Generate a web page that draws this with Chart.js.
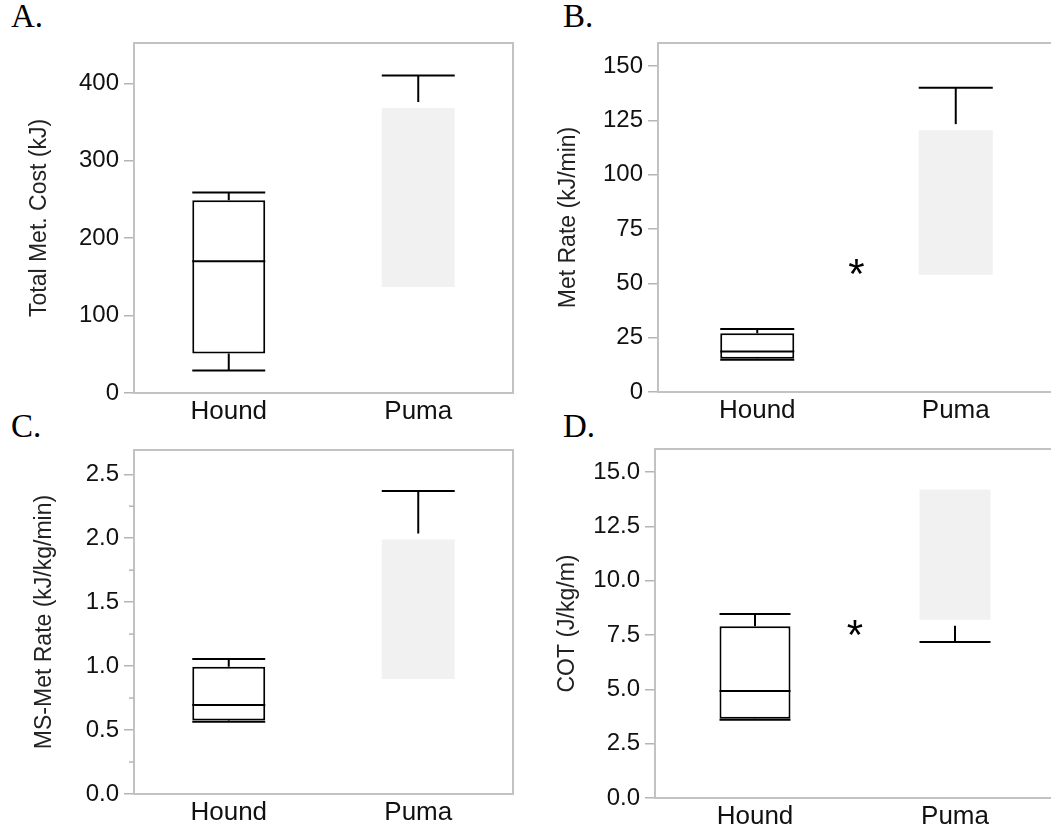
<!DOCTYPE html>
<html>
<head>
<meta charset="utf-8">
<script src="https://cdn.jsdelivr.net/npm/chart.js@4.4.1/dist/chart.umd.min.js"></script>
<style>
  html, body { margin: 0; padding: 0; background: #fff; overflow: hidden; width: 1051px; height: 830px; }
  .panel { position: absolute; }
  .tag { position: absolute; font-family: 'Liberation Serif', serif; font-size: 33px; line-height: 1; color: #000; }
</style>
</head>
<body>
<div class="tag" style="left:11px; top:0px">A.</div>
<div class="tag" style="left:563px; top:0px">B.</div>
<div class="tag" style="left:11px; top:410px">C.</div>
<div class="tag" style="left:563px; top:410px">D.</div>

<div class="panel" style="left:0px; top:0px"><canvas id="chartA" width="525" height="430"></canvas></div>
<div class="panel" style="left:530px; top:0px"><canvas id="chartB" width="530" height="430"></canvas></div>
<div class="panel" style="left:0px; top:420px"><canvas id="chartC" width="525" height="410"></canvas></div>
<div class="panel" style="left:530px; top:420px"><canvas id="chartD" width="530" height="410"></canvas></div>

<script>
const groups = ['Hound', 'Puma'];

// A. total metabolic cost
const costMin = [29, null];
const costQ1 = [51, 137];
const costMed = [170, null];
const costQ3 = [249, 368];
const costMax = [259, 410];
const costTicks = [0, 100, 200, 300, 400];

// B. metabolic rate
const rateMin = [14.8, null];
const rateQ1 = [15.3, 54];
const rateMed = [18.6, null];
const rateQ3 = [27, 120.5];
const rateMax = [29, 140];
const rateTicks = [0, 25, 50, 75, 100, 125, 150];
const rateStar = 57.5;

// C. mass-specific metabolic rate
const msMin = [0.565, null];
const msQ1 = [0.575, 0.9];
const msMed = [0.695, null];
const msQ3 = [0.995, 1.99];
const msMax = [1.055, 2.37];
const msTicks = [0, 0.5, 1.0, 1.5, 2.0, 2.5];
const msMinorTicks = [0.25, 0.75, 1.25, 1.75, 2.25];

// D. cost of transport
const cotMin = [3.6, 7.18];
const cotQ1 = [3.65, 8.2];
const cotMed = [4.92, null];
const cotQ3 = [7.9, 14.2];
const cotMax = [8.47, null];
const cotTicks = [0, 2.5, 5.0, 7.5, 10.0, 12.5, 15.0];
const cotStar = 7.8;

Chart.defaults.font.family = "'Liberation Sans', Arial, sans-serif";
Chart.defaults.color = '#111';

const line = (ctx, x1, y1, x2, y2) => {
  ctx.beginPath();
  ctx.moveTo(x1, y1);
  ctx.lineTo(x2, y2);
  ctx.stroke();
};

// frame, whiskers, medians, minor ticks and the significance star
const boxPlugin = {
  id: 'boxExtras',
  afterDatasetsDraw(chart) {
    const ctx = chart.ctx;
    const st = chart.data.datasets[0].stats;
    const meta = chart.getDatasetMeta(0);
    const y = chart.scales.y;
    const x = chart.scales.x;
    const area = chart.chartArea;
    ctx.save();

    ctx.strokeStyle = '#c2c2c2';
    ctx.lineWidth = 2;
    ctx.strokeRect(area.left, area.top, area.right - area.left, area.bottom - area.top);

    if (st.minor) {
      ctx.lineWidth = 1.5;
      ctx.strokeStyle = '#b5b5b5';
      st.minor.forEach(v => {
        const py = y.getPixelForValue(v);
        line(ctx, area.left - 5, py, area.left, py);
      });
    }

    ctx.strokeStyle = '#000';
    ctx.lineWidth = 2;
    meta.data.forEach((bar, i) => {
      const cx = bar.x, hw = bar.width / 2;
      const gap = i === 1 ? 6 : 0;
      if (st.med[i] != null) {
        const py = y.getPixelForValue(st.med[i]);
        line(ctx, cx - hw, py, cx + hw, py);
      }
      if (st.max[i] != null) {
        const top = y.getPixelForValue(st.max[i]);
        const from = y.getPixelForValue(st.q3[i]) - gap;
        line(ctx, cx, from, cx, top);
        line(ctx, cx - hw, top, cx + hw, top);
      }
      if (st.min[i] != null) {
        const bot = y.getPixelForValue(st.min[i]);
        const from = y.getPixelForValue(st.q1[i]) + gap;
        line(ctx, cx, from, cx, bot);
        line(ctx, cx - hw, bot, cx + hw, bot);
      }
    });

    if (st.star != null) {
      ctx.fillStyle = '#000';
      ctx.font = "42px 'Liberation Sans', Arial, sans-serif";
      ctx.textAlign = 'center';
      ctx.textBaseline = 'alphabetic';
      const m = ctx.measureText('*');
      const px = x.getPixelForValue(0.5);
      const py = y.getPixelForValue(st.star);
      ctx.fillText('*', px, py + (m.actualBoundingBoxAscent - m.actualBoundingBoxDescent) / 2);
    }
    ctx.restore();
  }
};

function boxChart(id, o) {
  return new Chart(document.getElementById(id), {
    type: 'bar',
    data: {
      labels: groups,
      datasets: [{
        data: o.q1.map((v, i) => [v, o.q3[i]]),
        backgroundColor: ['#ffffff', '#f1f1f1'],
        borderColor: ['#000000', 'rgba(0,0,0,0)'],
        borderWidth: [2, 0],
        borderSkipped: false,
        barPercentage: o.barPct,
        categoryPercentage: 1,
        stats: o
      }]
    },
    options: {
      responsive: false,
      animation: false,
      devicePixelRatio: 1,
      layout: { padding: { left: 0, top: o.top, right: o.right, bottom: 0 } },
      plugins: { legend: { display: false }, tooltip: { enabled: false } },
      scales: {
        x: {
          offset: true,
          grid: { display: false, drawTicks: false },
          border: { display: false },
          ticks: { font: { size: 26 }, color: '#111', padding: 3 },
          afterFit: s => { s.height = o.xHeight; }
        },
        y: {
          min: 0,
          max: o.yMax,
          grid: { drawOnChartArea: false, drawTicks: true, tickLength: 10, color: '#b5b5b5', lineWidth: 1.5 },
          border: { display: false },
          ticks: { font: { size: 24 }, color: '#111', padding: 5, callback: v => o.fmt(v) },
          afterBuildTicks: s => { s.ticks = o.ticks.map(v => ({ value: v })); },
          title: { display: true, text: o.title, font: { size: 23 }, color: '#222', padding: { top: o.titlePad, bottom: 0 } },
          afterFit: s => { s.width = o.yWidth; }
        }
      }
    },
    plugins: [boxPlugin]
  });
}

const whole = v => String(Math.round(v));
const oneDec = v => v.toFixed(1);

boxChart('chartA', {
  min: costMin, q1: costQ1, med: costMed, q3: costQ3, max: costMax, ticks: costTicks,
  title: 'Total Met. Cost (kJ)', fmt: whole, yMax: 452,
  top: 43, right: 12, yWidth: 134, xHeight: 37, barPct: 0.385, titlePad: 26
});
boxChart('chartB', {
  min: rateMin, q1: rateQ1, med: rateMed, q3: rateQ3, max: rateMax, ticks: rateTicks,
  title: 'Met Rate (kJ/min)', fmt: whole, yMax: 160.6, star: rateStar,
  top: 43, right: 5, yWidth: 128, xHeight: 38, barPct: 0.373, titlePad: 25
});
boxChart('chartC', {
  min: msMin, q1: msQ1, med: msMed, q3: msQ3, max: msMax, ticks: msTicks, minor: msMinorTicks,
  title: 'MS-Met Rate (kJ/kg/min)', fmt: oneDec, yMax: 2.69,
  top: 30, right: 12, yWidth: 134, xHeight: 36, barPct: 0.385, titlePad: 31
});
boxChart('chartD', {
  min: cotMin, q1: cotQ1, med: cotMed, q3: cotQ3, max: cotMax, ticks: cotTicks,
  title: 'COT (J/kg/m)', fmt: oneDec, yMax: 16.06, star: cotStar,
  top: 29, right: 5, yWidth: 125, xHeight: 32, barPct: 0.355, titlePad: 24
});
</script>
</body>
</html>
